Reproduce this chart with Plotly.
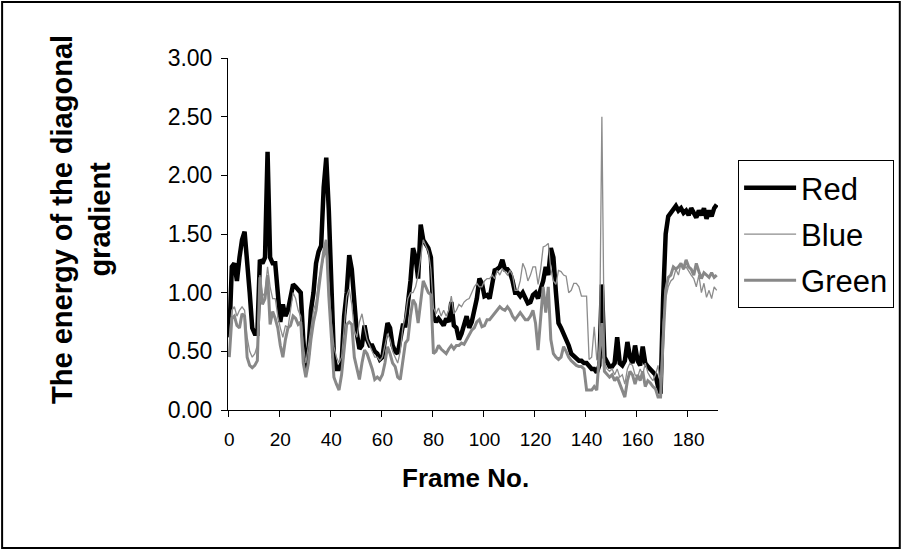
import plotly.graph_objects as go

frames = list(range(192))

red = [
    0.62, 1.22, 1.25, 1.10, 1.30, 1.45, 1.52, 1.30, 1.00, 0.70,
    0.65, 0.65, 1.28, 1.25, 1.30, 2.20, 1.30, 1.25, 1.25, 1.00,
    0.75, 0.90, 0.80, 0.85, 0.95, 1.07, 1.05, 1.02, 1.00, 0.60,
    0.35, 0.50, 0.85, 1.00, 1.25, 1.35, 1.40, 1.90, 2.15, 1.70,
    1.00, 0.45, 0.35, 0.35, 0.40, 0.80, 1.00, 1.32, 1.20, 0.85,
    0.65, 0.52, 0.55, 0.72, 0.60, 0.55, 0.55, 0.50, 0.48, 0.43,
    0.45, 0.60, 0.74, 0.70, 0.55, 0.50, 0.48, 0.60, 0.72, 0.72,
    0.90, 1.10, 1.38, 1.30, 1.12, 1.58, 1.45, 1.42, 1.38, 1.30,
    0.80, 0.75, 0.78, 0.75, 0.72, 0.78, 0.75, 0.92, 0.72, 0.70,
    0.60, 0.65, 0.72, 0.80, 0.70, 0.75, 0.85, 0.95, 1.12, 1.08,
    0.97, 0.98, 0.95, 1.10, 1.19, 1.20, 1.22, 1.28, 1.20, 1.20,
    1.17, 1.10, 1.00, 1.00, 0.97, 1.00, 0.95, 0.91, 0.92, 0.98,
    1.00, 0.95, 1.03, 1.10, 1.22, 1.15, 1.38, 1.30, 1.00, 0.74,
    0.70, 0.65, 0.62, 0.55, 0.48, 0.46, 0.45, 0.42, 0.42, 0.40,
    0.40, 0.37, 0.35, 0.35, 0.32, 0.38, 1.07, 0.45, 0.40, 0.37,
    0.37, 0.40, 0.62, 0.40, 0.38, 0.42, 0.58, 0.45, 0.40, 0.55,
    0.42, 0.38, 0.54, 0.40, 0.37, 0.35, 0.33, 0.30, 0.20, 0.14,
    0.95, 1.50, 1.65, 1.68, 1.72, 1.74, 1.70, 1.72, 1.68, 1.70,
    1.66, 1.72, 1.68, 1.64, 1.70, 1.66, 1.72, 1.63, 1.70, 1.65,
    1.72, 1.75,
]

blue = [
    0.62, 0.85, 0.88, 0.80, 0.85, 0.88, 0.85, 0.62, 0.50, 0.45,
    0.48, 0.55, 1.15, 0.97, 1.00, 1.22, 1.05, 0.95, 0.95, 0.80,
    0.70, 0.62, 0.72, 0.70, 0.85, 1.00, 0.95, 0.85, 0.80, 0.55,
    0.40, 0.55, 0.70, 0.85, 0.92, 1.10, 1.20, 1.30, 1.35, 1.00,
    0.75, 0.54, 0.45, 0.40, 0.45, 0.70, 0.97, 1.03, 0.90, 0.68,
    0.62, 0.75, 0.82, 0.70, 0.60, 0.55, 0.50, 0.45, 0.45, 0.42,
    0.45, 0.55, 0.65, 0.60, 0.50, 0.45, 0.40, 0.50, 0.70, 0.80,
    0.95, 1.00, 1.00, 1.05, 1.15, 1.30, 1.45, 1.40, 1.35, 1.20,
    0.87, 0.82, 0.87, 0.80, 0.85, 0.80, 0.85, 0.97, 0.82, 0.85,
    0.90, 0.88, 0.92, 0.94, 0.95, 1.00, 1.05, 1.08, 1.05, 1.05,
    1.10, 1.12, 1.12, 1.15, 1.12, 1.19, 1.15, 1.20, 1.18, 1.15,
    1.19, 1.15, 1.02, 1.02, 1.10, 1.25, 1.20, 1.10, 1.15, 1.22,
    1.22, 1.07, 1.20, 1.39, 1.40, 1.42, 1.20, 1.10, 1.07, 1.19,
    1.18, 1.15, 1.14, 1.00, 1.02, 1.08, 1.08, 1.05, 0.97, 0.97,
    0.97, 0.43, 0.45, 0.71, 0.43, 0.40, 2.50, 0.40, 0.35, 0.33,
    0.35, 0.30, 0.35, 0.28, 0.30, 0.22, 0.35, 0.40, 0.38, 0.30,
    0.28, 0.35, 0.30, 0.40, 0.32, 0.28, 0.25, 0.30, 0.38, 0.20,
    0.75, 0.95, 1.05, 1.10, 1.12, 1.20, 1.15, 1.25, 1.20, 1.22,
    1.18, 1.15, 1.12, 1.05, 1.15, 1.00, 1.08, 0.96, 1.02, 0.95,
    1.05, 1.02,
]

green = [
    0.45, 0.78, 0.80, 0.72, 0.70, 0.82, 0.80, 0.45, 0.38, 0.36,
    0.38, 0.42, 1.13, 0.90, 0.95, 1.15, 0.73, 0.84, 0.78, 0.70,
    0.55, 0.45, 0.60, 0.70, 0.72, 0.80, 0.78, 0.73, 0.75, 0.40,
    0.28, 0.40, 0.60, 0.75, 0.85, 1.05, 1.20, 1.35, 1.45, 0.97,
    0.60, 0.28, 0.22, 0.17, 0.30, 0.55, 0.73, 0.75, 0.73, 0.45,
    0.35, 0.26, 0.40, 0.51, 0.48, 0.42, 0.35, 0.26, 0.28, 0.26,
    0.30, 0.40, 0.54, 0.48, 0.40, 0.37, 0.28, 0.26, 0.40, 0.57,
    0.60, 0.80, 0.94, 0.90, 0.74, 0.95, 1.10, 1.05, 1.00, 0.98,
    0.48, 0.50, 0.55, 0.52, 0.50, 0.48, 0.52, 0.55, 0.52, 0.55,
    0.55, 0.57, 0.56, 0.60, 0.65, 0.68, 0.70, 0.75, 0.77, 0.71,
    0.72, 0.77, 0.77, 0.80, 0.82, 0.85, 0.88, 0.86, 0.85, 0.88,
    0.85, 0.80, 0.77, 0.80, 0.83, 0.80, 0.77, 0.77, 0.80, 0.85,
    0.74, 0.51, 0.75, 1.05, 0.83, 1.05, 0.60, 0.48, 0.45, 0.43,
    0.45, 0.54, 0.50, 0.45, 0.42, 0.40, 0.38, 0.37, 0.37, 0.35,
    0.17, 0.17, 0.17, 0.20, 0.17, 0.47, 0.74, 0.33, 0.30, 0.28,
    0.30, 0.25, 0.28, 0.22, 0.17, 0.11, 0.25, 0.33, 0.30, 0.22,
    0.30, 0.25, 0.33, 0.20, 0.25, 0.23, 0.20, 0.18, 0.11, 0.11,
    0.60, 1.02, 1.13, 1.15, 1.22, 1.20, 1.22, 1.25, 1.20, 1.28,
    1.22, 1.20, 1.15, 1.25, 1.18, 1.12, 1.17, 1.15, 1.13, 1.17,
    1.13, 1.15,
]

x_tick_vals = list(range(0, 181, 20))
x_tick_text = [str(v) for v in x_tick_vals]
x_tick_marks = [v - 0.5 for v in range(0, 201, 20)]
y_tick_vals = [0, 0.5, 1.0, 1.5, 2.0, 2.5, 3.0]

FONT = "Liberation Sans, Arial, sans-serif"

fig = go.Figure()
fig.add_trace(go.Scatter(x=frames, y=red, mode="lines", name="Red",
                         line=dict(color="#000000", width=4.5), legendgroup="r"))
fig.add_trace(go.Scatter(x=frames, y=blue, mode="lines", name="Blue",
                         line=dict(color="#8c8c8c", width=1.3), legendgroup="b"))
fig.add_trace(go.Scatter(x=frames, y=green, mode="lines", name="Green",
                         line=dict(color="#888888", width=3), legendgroup="g"))
# invisible trace on overlay axis to hold tick marks at category boundaries
fig.add_trace(go.Scatter(x=[-0.5], y=[0], xaxis="x2", mode="markers",
                         marker=dict(opacity=0), showlegend=False, hoverinfo="skip"))

fig.update_layout(
    width=903, height=550,
    margin=dict(l=228, r=185, t=58, b=140, autoexpand=False),
    paper_bgcolor="white", plot_bgcolor="white",
    font=dict(family=FONT, color="black"),
    showlegend=True,
    xaxis=dict(range=[-0.5, 191.5], tickvals=x_tick_vals, ticktext=x_tick_text,
               ticks="", showgrid=False, zeroline=False,
               showline=True, linecolor="black", linewidth=1,
               tickfont=dict(size=19, family=FONT), ticklabelstandoff=12),
    xaxis2=dict(range=[-0.5, 191.5], overlaying="x", tickvals=x_tick_marks,
                ticks="outside", ticklen=6, tickcolor="black", showticklabels=False,
                showgrid=False, zeroline=False, showline=False, anchor="y"),
    yaxis=dict(range=[0, 3], tickvals=y_tick_vals, tickformat=".2f",
               ticks="outside", ticklen=6, tickcolor="black",
               showgrid=False, zeroline=False, showline=True, linecolor="black",
               linewidth=1, tickfont=dict(size=23, family=FONT), ticklabelstandoff=4),
    legend=dict(x=1.041, y=0.71, xanchor="left", yanchor="top",
                bordercolor="black", borderwidth=1, bgcolor="white",
                font=dict(size=31, family=FONT), itemwidth=52,
                tracegroupgap=3),
)

fig.add_annotation(text="<b>The energy of the diagonal<br>gradient</b>",
                   xref="paper", yref="paper", x=-0.3, y=0.54,
                   xanchor="center", yanchor="middle",
                   textangle=-90, showarrow=False,
                   font=dict(size=29, family=FONT))
fig.add_annotation(text="<b>Frame No.</b>", xref="paper", yref="paper",
                   x=0.484, y=-0.193, xanchor="center", yanchor="middle",
                   showarrow=False,
                   font=dict(size=26, family=FONT))

fig.add_shape(type="rect", xref="paper", yref="paper",
              x0=-0.461, x1=1.371, y0=-0.392, y1=1.159,
              line=dict(color="black", width=2))

fig.write_html("out.html")
